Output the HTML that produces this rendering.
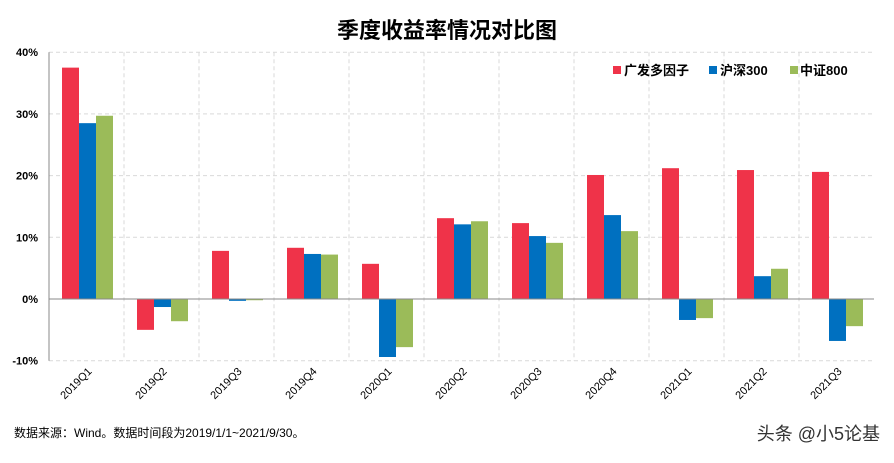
<!DOCTYPE html>
<html><head><meta charset="utf-8"><style>
body{margin:0;background:#fff;}
svg text{font-family:"Liberation Sans","Noto Sans CJK SC",sans-serif;}
</style></head><body>
<svg width="894" height="458" xmlns="http://www.w3.org/2000/svg">
<text x="447" y="38" text-anchor="middle" font-size="22" font-weight="bold" fill="#000">季度收益率情况对比图</text>
<g id="grid"></g><g id="bars"></g><g id="axes"></g>
<g>
<rect x="613" y="66" width="8" height="8" fill="#ef3349"/>
<text x="624" y="75" font-size="13" font-weight="bold">广发多因子</text>
<rect x="709" y="66" width="8" height="8" fill="#0070c0"/>
<text x="720" y="75" font-size="13" font-weight="bold">沪深300</text>
<rect x="790" y="66" width="8" height="8" fill="#9bbb59"/>
<text x="800" y="75" font-size="13" font-weight="bold">中证800</text>
</g>
<text x="14" y="437" font-size="12" fill="#000">数据来源：Wind。数据时间段为2019/1/1~2021/9/30。</text>
<text x="880" y="440" text-anchor="end" font-size="18" fill="#333">头条 @小5论基</text>
</svg>
<script>
const categories=["2019Q1","2019Q2","2019Q3","2019Q4","2020Q1","2020Q2","2020Q3","2020Q4","2021Q1","2021Q2","2021Q3"];
const gfValues=[37.5,-5.0,7.8,8.3,5.7,13.1,12.3,20.1,21.2,20.9,20.6];
const hsValues=[28.5,-1.3,-0.3,7.3,-9.4,12.1,10.2,13.6,-3.4,3.7,-6.8];
const zzValues=[29.7,-3.6,-0.2,7.2,-7.8,12.6,9.1,11.0,-3.1,4.9,-4.4];
const yTicks=[-10,0,10,20,30,40];
const NS="http://www.w3.org/2000/svg";
const L=49,R=874,cw=(R-L)/categories.length;
const y=v=>299-v*6.17;
function mk(t,a,p){const e=document.createElementNS(NS,t);for(const k in a)e.setAttribute(k,a[k]);p.appendChild(e);return e;}
const grid=document.getElementById('grid'),bars=document.getElementById('bars'),axes=document.getElementById('axes');
yTicks.forEach(t=>{
 if(t!==0&&t!==-10){const g=mk('line',{x1:L,x2:R,y1:y(t),y2:y(t),stroke:'#d9d9d9','stroke-dasharray':'4,3'},grid);
 
 }
 const lb=mk('text',{x:38,y:y(t)+4,'text-anchor':'end','font-size':11,'font-weight':'bold'},axes);
 lb.textContent=t+'%';
 
 
});
mk('line',{x1:L,x2:R,y1:y(-10),y2:y(-10),stroke:'#d9d9d9','stroke-dasharray':'4,3'},grid);
categories.forEach((c,i)=>{
 const gx=L+cw*(i+1);
 if(i<categories.length-1){const g=mk('line',{x1:gx,x2:gx,y1:y(40),y2:y(-10),stroke:'#d9d9d9','stroke-dasharray':'4,3'},grid);
 
 }
 const x0=L+cw*i+13;
 [[gfValues,'#ef3349','gf'],[hsValues,'#0070c0','hs300'],[zzValues,'#9bbb59','zz800']].forEach((s,j)=>{
  const v=s[0][i];const r=mk('rect',{x:x0+j*17,y:Math.min(y(v),y(0)),width:17,height:Math.abs(y(v)-y(0)),fill:s[1]},bars);
  
  
 });
 const cx=L+cw*(i+0.5)+6;
 const t=mk('text',{x:cx,y:372,'text-anchor':'end','font-size':11,transform:`rotate(-45 ${cx} 372)`},axes);
 t.textContent=c;
 
 
});
const ax=mk('line',{x1:L,x2:L,y1:y(40),y2:y(-10),stroke:'#888'},axes);


const zx=mk('line',{x1:L,x2:R,y1:y(0),y2:y(0),stroke:'#888'},axes);


</script>
</body></html>
